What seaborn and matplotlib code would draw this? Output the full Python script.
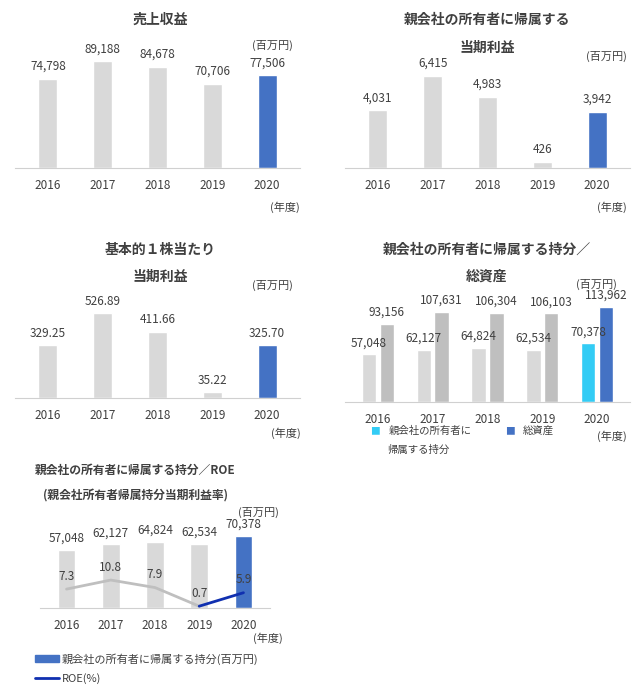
import matplotlib
matplotlib.use("Agg")
import matplotlib.pyplot as plt
import seaborn as sns
import pandas as pd
from matplotlib.patches import Patch
from matplotlib.lines import Line2D

sns.set_style("white")
plt.rcParams["font.family"] = ["Noto Sans CJK JP", "DejaVu Sans"]

years = ["2016", "2017", "2018", "2019", "2020"]
sales = [74798, 89188, 84678, 70706, 77506]
net_income = [4031, 6415, 4983, 426, 3942]
eps = [329.25, 526.89, 411.66, 35.22, 325.70]
equity = [57048, 62127, 64824, 62534, 70378]
assets = [93156, 107631, 106304, 106103, 113962]
roe = [7.3, 10.8, 7.9, 0.7, 5.9]

GREY = "#d9d9d9"
MIDGREY = "#bfbfbf"
BLUE = "#4472c4"
CYAN = "#33ccf5"
TXT = "#404040"

W, H = 640, 695
fig = plt.figure(figsize=(6.4, 6.95), dpi=100)


def mkax(x0, x1, top, base):
    return fig.add_axes([x0 / W, 1 - base / H, (x1 - x0) / W, (base - top) / H])


def style(ax):
    for s in ["top", "right", "left"]:
        ax.spines[s].set_visible(False)
    ax.spines["bottom"].set_color("#d0d0d0")
    ax.set_yticks([])
    ax.set_xlabel("")
    ax.set_ylabel("")
    ax.tick_params(axis="x", length=0, labelsize=8.5, labelcolor=TXT, pad=8)


def single(ax, vals, ymax, fmt):
    df = pd.DataFrame({"year": years, "v": vals})
    sns.barplot(data=df, x="year", y="v", ax=ax, palette=[GREY] * 4 + [BLUE],
                hue="year", legend=False, width=0.35, saturation=1)
    for i, v in enumerate(vals):
        ax.text(i, v + ymax * 0.05, fmt(v), ha="center", va="bottom", fontsize=8.5, color=TXT)
    ax.set_ylim(0, ymax)
    ax.set_xlim(-0.6, 4.6)
    style(ax)


def title(x, y, s):
    fig.text(x / W, 1 - y / H, s, ha="center", va="center", fontsize=10, fontweight="bold", color=TXT)


def note(x, y, s, size=8):
    fig.text(x / W, 1 - y / H, s, ha="center", va="center", fontsize=size, color=TXT)


# 売上収益
ax1 = mkax(15, 300, 45, 168)
single(ax1, sales, 103000, lambda v: f"{v:,}")
title(160, 20, "売上収益")
note(272, 45, "(百万円)")
note(612, 207, "(年度)")
note(285, 207, "(年度)")

# 当期利益
ax2 = mkax(345, 630, 45, 168)
single(ax2, net_income, 8600, lambda v: f"{v:,}")
title(487, 20, "親会社の所有者に帰属する")
title(487, 48, "当期利益")
note(606, 56, "(百万円)")

# EPS
ax3 = mkax(15, 300, 290, 398)
single(ax3, eps, 670, lambda v: f"{v:.2f}")
title(160, 250, "基本的１株当たり")
title(160, 277, "当期利益")
note(272, 285, "(百万円)")
note(286, 433, "(年度)")

# 持分/総資産
ax4 = mkax(345, 630, 295, 402)
df4 = pd.DataFrame({"year": years * 2, "v": equity + assets,
                    "s": ["eq"] * 5 + ["as"] * 5})
sns.barplot(data=df4, x="year", y="v", hue="s", ax=ax4, legend=False,
            palette=[GREY, MIDGREY], width=0.65, saturation=1, gap=0.2)
eq_bars = ax4.patches[:5]
as_bars = ax4.patches[5:10]
eq_bars[4].set_facecolor(CYAN)
as_bars[4].set_facecolor(BLUE)
for b, v in zip(eq_bars, equity):
    ax4.text(b.get_x() + b.get_width() / 2, v + 6000, f"{v:,}", ha="center", va="bottom", fontsize=8.5, color=TXT)
for b, v in zip(as_bars, assets):
    ax4.text(b.get_x() + b.get_width() / 2, v + 6000, f"{v:,}", ha="center", va="bottom", fontsize=8.5, color=TXT)
ax4.set_ylim(0, 128000)
ax4.set_xlim(-0.6, 4.6)
style(ax4)
title(487, 250, "親会社の所有者に帰属する持分／")
title(487, 277, "総資産")
note(596, 284, "(百万円)")
note(612, 436, "(年度)")
fig.text(375 / W, 1 - 431 / H, "■", color=CYAN, fontsize=7, va="center", ha="center")
note(430, 431, "親会社の所有者に", 7.5)
note(418, 450, "帰属する持分", 7.5)
fig.text(510 / W, 1 - 431 / H, "■", color=BLUE, fontsize=7, va="center", ha="center")
note(538, 431, "総資産", 7.5)

# 持分/ROE
ax5 = mkax(40, 270, 520, 608)
df5 = pd.DataFrame({"year": years, "v": equity})
sns.barplot(data=df5, x="year", y="v", ax=ax5, palette=[GREY] * 4 + [BLUE],
            hue="year", legend=False, width=0.4, saturation=1)
for i, v in enumerate(equity):
    ax5.text(i, v + 5000, f"{v:,}", ha="center", va="bottom", fontsize=8.5, color=TXT)
ax5.set_ylim(0, 86000)
ax5.set_xlim(-0.6, 4.6)
style(ax5)
ax5b = ax5.twinx()
x = list(range(5))
ax5b.plot(x[:4], roe[:4], color=MIDGREY, lw=2)
ax5b.plot(x[3:], roe[3:], color="#1030b0", lw=2)
for i, v in enumerate(roe):
    ax5b.text(i, v + 2.5, f"{v}", ha="center", va="bottom", fontsize=8.5, color=TXT)
ax5b.set_ylim(0, 34)
ax5b.set_yticks([])
for s in ["top", "right", "left", "bottom"]:
    ax5b.spines[s].set_visible(False)
fig.text(135 / W, 1 - 470 / H, "親会社の所有者に帰属する持分／ROE", ha="center", va="center",
         fontsize=8.5, fontweight="bold", color=TXT)
fig.text(135 / W, 1 - 495 / H, "(親会社所有者帰属持分当期利益率)", ha="center", va="center",
         fontsize=8.5, fontweight="bold", color=TXT)
note(258, 512, "(百万円)")
note(268, 638, "(年度)")
fig.legend(handles=[Patch(color=BLUE, label="親会社の所有者に帰属する持分(百万円)"),
                    Line2D([0], [0], color="#1030b0", lw=2, label="ROE(%)")],
           loc="upper left", bbox_to_anchor=(25 / W, 1 - 643 / H), frameon=False,
           fontsize=8, handlelength=2.2, labelcolor=TXT, labelspacing=0.8,
           handletextpad=0.2)

fig.savefig("out.png", dpi=100)
